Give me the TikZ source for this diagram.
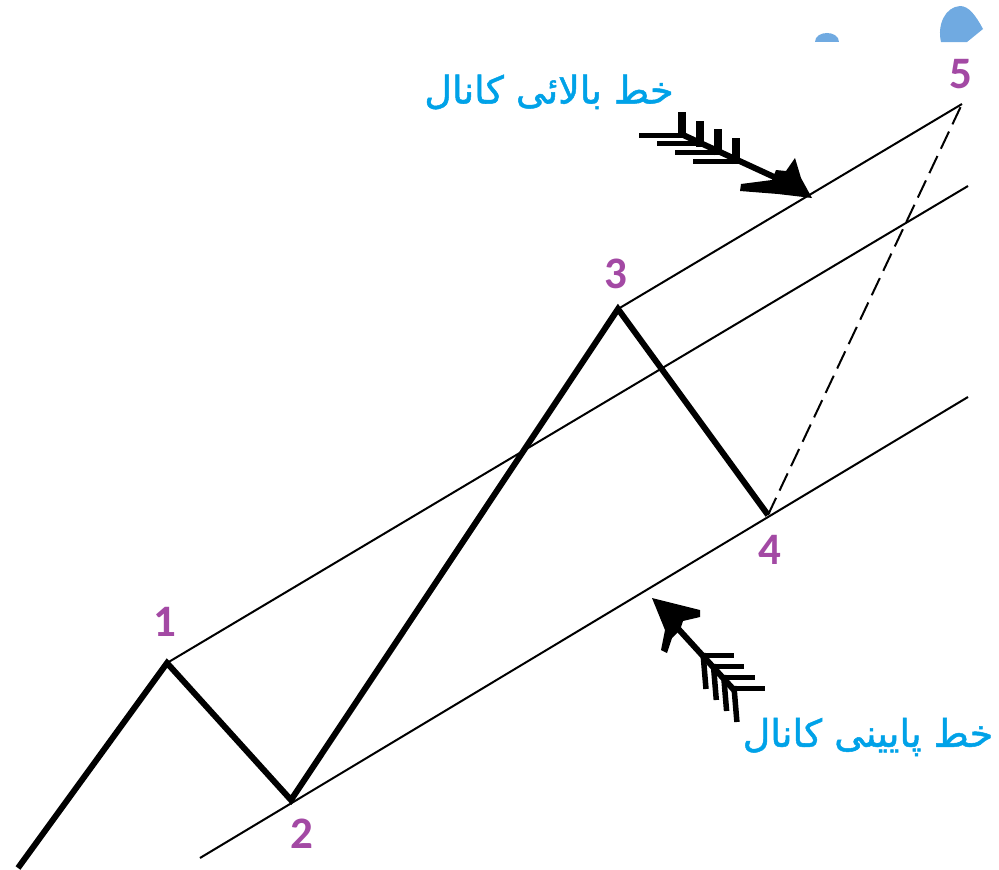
\documentclass[tikz,border=0pt]{standalone}
\usepackage{fontspec}
\setmainfont{Carlito}
\newfontfamily\arabicfont[Script=Arabic,FakeBold=1.3]{DejaVu Sans}
\TeXXeTstate=1
\definecolor{numpurple}{RGB}{163,73,164}
\definecolor{txtblue}{RGB}{0,162,232}
\definecolor{blobblue}{RGB}{112,170,225}
\begin{document}
\begin{tikzpicture}[x=1pt,y=-1pt,
  chan/.style={line width=2pt},
  wave/.style={line width=6pt, line join=miter},
  num/.style={text=numpurple, font=\fontsize{45}{45}\selectfont\bfseries, inner sep=0pt},
  lbl/.style={text=txtblue, font=\arabicfont\fontsize{38}{44}\selectfont, inner sep=0pt},
  hfeather/.style={line width=5pt},
  vfeather/.style={line width=8pt},
  vfeatherlow/.style={line width=5.5pt},
  shaft/.style={line width=6pt}]
\useasboundingbox (0,0) rectangle (999,870);
\fill[white] (0,0) rectangle (999,870);
% blue blobs
\fill[blobblue] (815,42) .. controls (815,30) and (839,30) .. (839,42) -- cycle;
\fill[blobblue] (941,42) .. controls (937,25) and (945,7) .. (960,6)
  .. controls (969,6) and (976,16) .. (983,29) -- (967,42) -- cycle;
% points
\coordinate (p0) at (18,868);
\coordinate (p1) at (167,663);
\coordinate (p2) at (291,800);
\coordinate (p3) at (618,309);
\coordinate (p4) at (768,515);
\coordinate (p5) at (962,104);
\coordinate (m1) at (968,186);
\coordinate (l0) at (200,858);
\coordinate (l1) at (968,397);
% channel lines
\draw[chan] (p3) -- (p5);
\draw[chan] (p1) -- (m1);
\draw[chan] (l0) -- (l1);
\draw[chan, dash pattern=on 19pt off 8pt] (p4) -- (p5);
% zigzag
\draw[wave] (p0) -- (p1) -- (p2) -- (p3) -- (p4);
% numbers
\node[num] (n1) at (165,622) {1};
\node[num] (n2) at (302,834) {2};
\node[num] (n3) at (616,274) {3};
\node[num] (n4) at (770,550) {4};
\node[num] (n5) at (961,74) {5};
% labels
\node[lbl] (top) at (549,92) {\beginR خط بالائی کانال\endR};
\node[lbl] (bot) at (868,737) {\beginR خط پایینی کانال\endR};
% upper arrow
\coordinate (ta) at (812,198);
\draw[shaft] (681,134) -- (785,182);
\fill (ta) -- (801,178) -- (795,158) -- (786,171) -- (776,170) -- (772,180)
  -- (741,184) -- (740,191) -- (778,194) -- cycle;
\foreach \i in {0,...,3} {
  \draw[hfeather] (683+18*\i,135+8.7*\i) -- ++(-44,0);
  \draw[vfeather] (682+18*\i,138+8.7*\i) -- ++(0,-26);
}
% lower arrow
\coordinate (tb) at (652,598);
\draw[shaft] (672,622) -- (734,690);
\fill (tb) -- (700,610) -- (700,617) -- (683,621) -- (680,630) -- (672,638)
  -- (667,653) -- (661,650) -- (665,630) -- cycle;
\foreach \i in {0,...,3} {
  \draw[hfeather] (701+10.3*\i,655+11*\i) -- ++(33,0);
  \draw[vfeatherlow] (703+10.3*\i,653+11*\i) -- ++(3,36);
}
\end{tikzpicture}
\end{document}
